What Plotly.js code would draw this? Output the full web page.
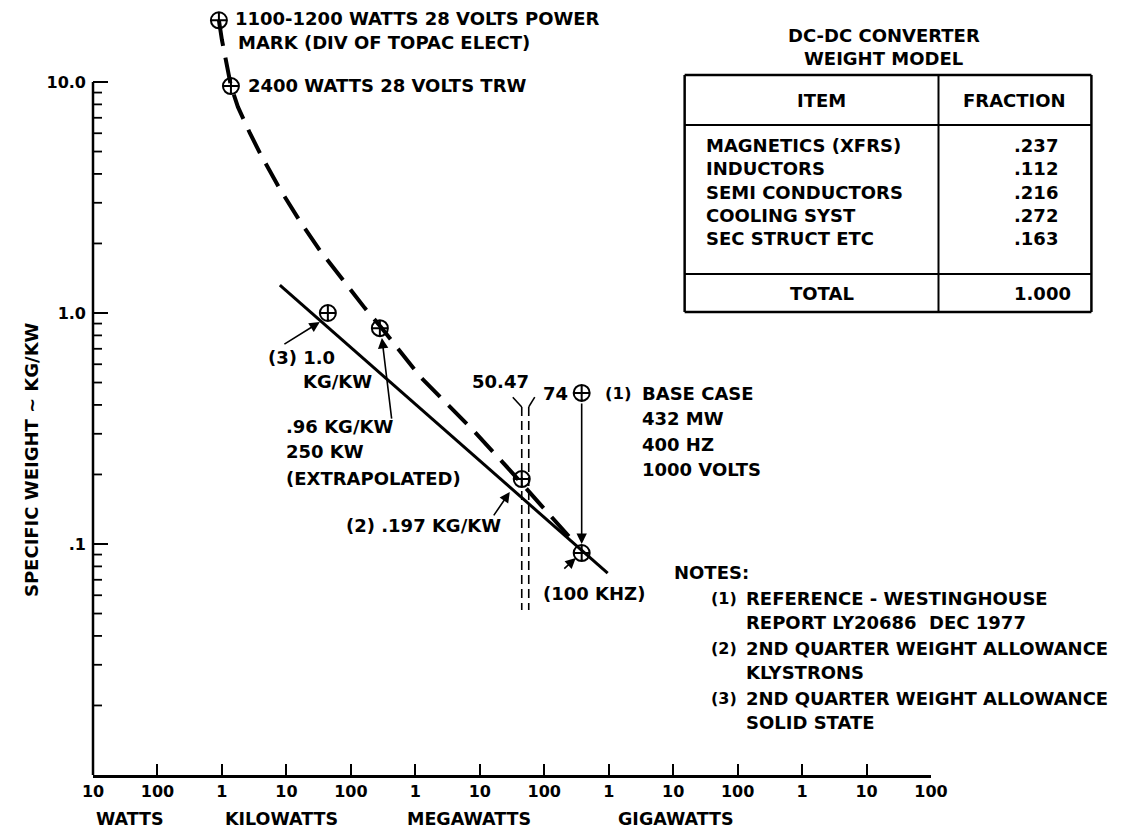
<!DOCTYPE html>
<html><head><meta charset="utf-8">
<script src="https://cdn.plot.ly/plotly-3.0.1.min.js"></script>
<style>body{margin:0;background:#fff}</style>
</head><body>
<div id="chart" style="width:1130px;height:833px"></div>
<script>
// ---- data ----
const xTickVals = [1e1,1e2,1e3,1e4,1e5,1e6,1e7,1e8,1e9,1e10,1e11,1e12,1e13,1e14];
const xTickText = ["10","100","1","10","100","1","10","100","1","10","100","1","10","100"];
const yTickVals = [0.1, 1, 10];
const yTickText = [".1", "1.0", "10.0"];
const yMinorTicks = [0.02,0.03,0.04,0.05,0.06,0.07,0.08,0.09,0.2,0.3,0.4,0.5,0.6,0.7,0.8,0.9,2,3,4,5,6,7,8,9];

// dashed trend curve (power W, specific weight kg/kW)
const curveW  = [898, 1000, 1380, 1770, 2720, 4030, 7920, 16200, 33000, 80700, 165000, 292000, 1.17e6, 7.78e6, 2.92e7, 2.97e8];
const curveKg = [18.5, 15.2, 9.6, 7.8, 6.0, 4.83, 3.44, 2.50, 1.87, 1.35, 1.05, 0.87, 0.533, 0.312, 0.209, 0.101];

// solid trend line
const lineW  = [7920, 9.64e8];
const lineKg = [1.32, 0.0748];

// plotted points (circle with cross)
const ptW  = [898, 1380, 44000, 282000, 4.48e7, 3.81e8, 3.81e8];
const ptKg = [18.5, 9.6, 1.0, 0.86, 0.191, 0.451, 0.0914];

// 50.47 / .74 double dashed markers
const vLeftW = 4.48e7, vRightW = 5.75e7;
const vKg = [0.392, 0.0518];
const bracketTopKg = 0.432;
const bracketLeftTopW = 3.25e7, bracketRightTopW = 7.13e7;

// arrows: tail -> head
const arrowTailW  = [8830, 432000, 1.59e7, 1.94e8, 3.81e8];
const arrowTailKg = [0.726, 0.344, 0.131, 0.0771, 0.412];
const arrowHeadW  = [33000, 303000, 2.92e7, 3.08e8, 3.81e8];
const arrowHeadKg = [0.914, 0.780, 0.168, 0.0869, 0.100];

// table
const tableItems = ["MAGNETICS (XFRS)", "INDUCTORS", "SEMI CONDUCTORS", "COOLING SYST", "SEC STRUCT ETC"];
const tableFractions = [".237", ".112", ".216", ".272", ".163"];
const tableTotal = "1.000";

// ---- layout helpers (pixel -> paper) ----
const L = 93, R = 931.5, B = 775, T = 10;
const W = R - L, H = B - T;
const px = x => (x - L) / W;
const py = y => (B - y) / H;

const FONT = {family: "DejaVu Sans, sans-serif", size: 18, color: "#000", weight: "bold"};
const ann = [];
function txt(t, x, y, anchor, size) {
  ann.push({text: t, xref: "paper", yref: "paper", x: px(x), y: py(y),
    xanchor: anchor || "left", yanchor: "middle", showarrow: false,
    font: Object.assign({}, FONT, size ? {size: size} : {})});
}

// point labels
txt("1100-1200 WATTS 28 VOLTS POWER", 233, 19);
txt("MARK (DIV OF TOPAC ELECT)", 236, 43);
txt("2400 WATTS 28 VOLTS TRW", 246, 86);
txt("(3) 1.0", 266, 357);
txt("KG/KW", 301, 381);
txt(".96 KG/KW", 284, 426);
txt("250 KW", 284, 452);
txt("(EXTRAPOLATED)", 284, 478);
txt("(2) .197 KG/KW", 344, 525);
txt("(100 KHZ)", 541, 593);
txt("50.47", 501, 381, "center");
txt("74", 541, 393);
txt("(1)", 603, 393, "left", 16.5);
txt("BASE CASE", 640, 393);
txt("432 MW", 640, 418);
txt("400 HZ", 640, 444);
txt("1000 VOLTS", 640, 469);
// notes
txt("NOTES:", 672, 572);
txt("(1)", 709, 598, "left", 16); txt("REFERENCE - WESTINGHOUSE", 744, 598);
txt("REPORT LY20686  DEC 1977", 744, 622);
txt("(2)", 709, 648, "left", 16); txt("2ND QUARTER WEIGHT ALLOWANCE", 744, 648);
txt("KLYSTRONS", 744, 672);
txt("(3)", 709, 698, "left", 16); txt("2ND QUARTER WEIGHT ALLOWANCE", 744, 698);
txt("SOLID STATE", 744, 722);
// table
txt("DC-DC CONVERTER", 884, 35, "center");
txt("WEIGHT MODEL", 884, 58, "center");
txt("ITEM", 822, 100, "center");
txt("FRACTION", 1015, 100, "center");
const rowY = [145, 168, 192, 215, 238];
tableItems.forEach((t, i) => txt(t, 704, rowY[i]));
tableFractions.forEach((t, i) => txt(t, 1061, rowY[i], "right"));
txt("TOTAL", 822, 293, "center");
txt(tableTotal, 1043, 293, "center");
// axis unit labels
txt("WATTS", 130, 819, "center", 17.5);
txt("KILOWATTS", 282, 819, "center", 17.5);
txt("MEGAWATTS", 469, 819, "center", 17.5);
txt("GIGAWATTS", 676, 819, "center", 17.5);
// y title
ann.push({text: "SPECIFIC WEIGHT ~ KG/KW", xref: "paper", yref: "paper", x: px(31), y: py(460),
  textangle: -90, showarrow: false, xanchor: "center", yanchor: "middle", font: FONT});

// arrows
for (let i = 0; i < arrowTailW.length; i++) {
  ann.push({text: "", xref: "x", yref: "y", axref: "x", ayref: "y",
    x: Math.log10(arrowHeadW[i]), y: Math.log10(arrowHeadKg[i]),
    ax: Math.log10(arrowTailW[i]), ay: Math.log10(arrowTailKg[i]),
    showarrow: true, arrowhead: 2, arrowsize: 1.3, arrowwidth: 1.6, arrowcolor: "#000", standoff: 0});
}

// shapes: y axis line, minor ticks, table
const shapes = [];
shapes.push({type: "line", xref: "paper", yref: "y", x0: 0, x1: 0, y0: 0.01, y1: 10, line: {color: "#000", width: 2.5}});
yMinorTicks.forEach(v => shapes.push({type: "line", xref: "paper", yref: "y", x0: 0, x1: 9 / W, y0: v, y1: v, line: {color: "#000", width: 1.8}}));
function pline(x0, y0, x1, y1, w) {
  shapes.push({type: "line", xref: "paper", yref: "paper", x0: px(x0), y0: py(y0), x1: px(x1), y1: py(y1), line: {color: "#000", width: w}});
}
pline(685, 75, 1092, 75, 2.5);
pline(685, 312, 1092, 312, 2.5);
pline(685, 75, 685, 312, 2.5);
pline(1092, 75, 1092, 312, 2.5);
pline(939, 75, 939, 312, 2);
pline(685, 125, 1092, 125, 1.8);
pline(685, 274, 1092, 274, 1.8);

const traces = [
  {x: curveW, y: curveKg, mode: "lines", line: {color: "#000", width: 4, dash: "26px,12px"}, hoverinfo: "skip"},
  {x: lineW, y: lineKg, mode: "lines", line: {color: "#000", width: 3}, hoverinfo: "skip"},
  {x: [vLeftW, vLeftW, null, vRightW, vRightW], y: [vKg[0], vKg[1], null, vKg[0], vKg[1]],
   mode: "lines", line: {color: "#000", width: 1.6, dash: "9px,5px"}, hoverinfo: "skip"},
  {x: [bracketLeftTopW, vLeftW, null, bracketRightTopW, vRightW], y: [bracketTopKg, vKg[0], null, bracketTopKg, vKg[0]],
   mode: "lines", line: {color: "#000", width: 1.6}, hoverinfo: "skip"},
  {x: ptW, y: ptKg, mode: "markers", cliponaxis: false,
   marker: {symbol: "circle-cross-open", size: 16, color: "#000", line: {width: 2, color: "#000"}}, hoverinfo: "skip"}
];

const layout = {
  width: 1130, height: 833,
  margin: {l: L, r: 1130 - R, t: T, b: 833 - B},
  paper_bgcolor: "#fff", plot_bgcolor: "#fff",
  showlegend: false,
  font: FONT,
  xaxis: {type: "log", range: [1, 14], tickmode: "array", tickvals: xTickVals, ticktext: xTickText,
    ticks: "inside", ticklen: 11, tickwidth: 2, tickcolor: "#000",
    showline: true, linewidth: 2.5, linecolor: "#000", showgrid: false, zeroline: false,
    tickfont: Object.assign({}, FONT, {size: 16}), fixedrange: true},
  yaxis: {type: "log", range: [-2, -2 + (B - T) / 231], tickmode: "array",
    tickvals: yTickVals, ticktext: yTickText,
    ticks: "inside", ticklen: 15, tickwidth: 2, tickcolor: "#000",
    showline: false, showgrid: false, zeroline: false, ticklabelstandoff: 6,
    tickfont: Object.assign({}, FONT, {size: 16}), fixedrange: true},
  annotations: ann,
  shapes: shapes
};

Plotly.newPlot("chart", traces, layout, {staticPlot: true, displayModeBar: false});
</script>
</body></html>
